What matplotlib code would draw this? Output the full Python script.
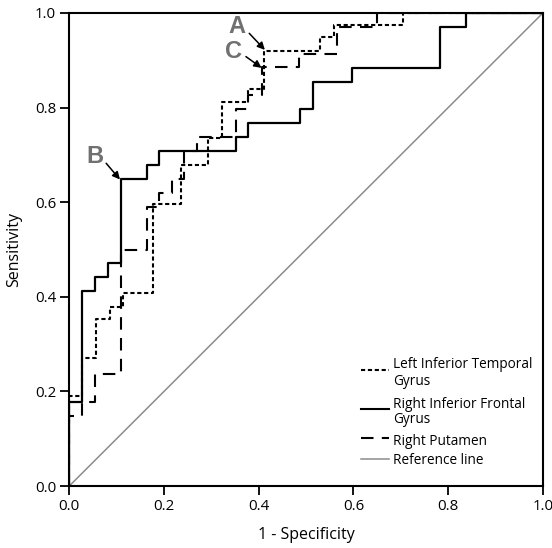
import matplotlib
matplotlib.use("Agg")
import matplotlib.pyplot as plt

plt.rcParams["font.family"] = ["Open Sans", "DejaVu Sans"]

# ROC corner points (1 - specificity, sensitivity)
litg_fpr = [0.0, 0.0, 0.027, 0.057, 0.086, 0.114, 0.177, 0.236, 0.293, 0.323, 0.378, 0.411, 0.529, 0.559, 0.704, 1.0]
litg_tpr = [0.0, 0.19, 0.27, 0.353, 0.378, 0.408, 0.596, 0.679, 0.735, 0.812, 0.839, 0.92, 0.949, 0.975, 1.0, 1.0]

rifg_fpr = [0.0, 0.0, 0.027, 0.054, 0.082, 0.109, 0.164, 0.189, 0.352, 0.377, 0.487, 0.514, 0.597, 0.783, 0.838, 1.0]
rifg_tpr = [0.0, 0.178, 0.412, 0.442, 0.471, 0.649, 0.679, 0.708, 0.738, 0.767, 0.797, 0.854, 0.884, 0.970, 1.0, 1.0]

rput_fpr = [0.0, 0.0, 0.027, 0.054, 0.109, 0.164, 0.189, 0.216, 0.243, 0.27, 0.352, 0.378, 0.406, 0.485, 0.565, 0.649, 1.0]
rput_tpr = [0.0, 0.148, 0.178, 0.237, 0.5, 0.589, 0.62, 0.648, 0.708, 0.737, 0.797, 0.826, 0.885, 0.913, 0.97, 1.0, 1.0]

ref_x = [0.0, 1.0]
ref_y = [0.0, 1.0]

ticks = [0.0, 0.2, 0.4, 0.6, 0.8, 1.0]
tick_labels = ["0.0", "0.2", "0.4", "0.6", "0.8", "1.0"]

# labelled cut-off points: letter, ROC point, text position
marks = [
    ("A", (0.413, 0.922), (0.353, 0.972)),
    ("C", (0.406, 0.884), (0.346, 0.918)),
    ("B", (0.107, 0.648), (0.054, 0.697)),
]

legend_rows = [
    (["Left Inferior Temporal", "Gyrus"], dict(color="black", lw=1.5, ls=(0, (2, 1.3)))),
    (["Right Inferior Frontal", "Gyrus"], dict(color="black", lw=1.5, ls="-")),
    (["Right Putamen"], dict(color="black", lw=1.5, ls=(0, (6, 4)))),
    (["Reference line"], dict(color="#8c8c8c", lw=1.1, ls="-")),
]

fig = plt.figure(figsize=(5.52, 5.48), dpi=100)
ax = fig.add_axes([0.1255, 0.1131, 0.858, 0.8632])

ax.plot(ref_x, ref_y, color="#8c8c8c", lw=1.1)
ax.plot(litg_fpr, litg_tpr, drawstyle="steps-post", color="black", lw=1.5, ls=(0, (2, 1.3)))
ax.plot(rput_fpr, rput_tpr, drawstyle="steps-post", color="black", lw=1.5, ls=(0, (6, 4)))
ax.plot(rifg_fpr, rifg_tpr, drawstyle="steps-post", color="black", lw=1.6)

for letter, pt, txt in marks:
    ax.text(txt[0], txt[1], letter, fontsize=17, fontweight="bold", color="#707070",
            family="Liberation Sans", ha="center", va="center")
    dx = pt[0] - txt[0]
    dy = pt[1] - txt[1]
    ax.annotate("", xy=pt, xytext=(txt[0] + 0.45 * dx, txt[1] + 0.3 * dy),
                arrowprops=dict(arrowstyle="-|>", color="black", lw=1.1, mutation_scale=11,
                                shrinkA=0, shrinkB=0))

# legend drawn by hand so the handle sits on the first text line
line_y = [0.256, 0.222, 0.173, 0.140, 0.095, 0.053]
handle_y = [0.245, 0.163, 0.101, 0.057]
k = 0
for (lines, style), hy in zip(legend_rows, handle_y):
    ax.plot([0.617, 0.675], [hy, hy], transform=ax.transAxes, clip_on=False, **style)
    for ln in lines:
        ax.text(0.683, line_y[k], ln, transform=ax.transAxes, fontsize=9.8, va="center", ha="left")
        k += 1

ax.set_xlim(0, 1)
ax.set_ylim(0, 1)
ax.set_xticks(ticks)
ax.set_xticklabels(tick_labels)
ax.set_yticks(ticks)
ax.set_yticklabels(tick_labels)
ax.tick_params(direction="out", length=6.5, width=1.3, labelsize=10.8, pad=3)
for sp in ax.spines.values():
    sp.set_linewidth(1.5)

ax.set_xlabel("1 - Specificity", fontsize=11.5, labelpad=9)
ax.set_ylabel("Sensitivity", fontsize=11.5, labelpad=9)

fig.savefig("out.png", dpi=100)
